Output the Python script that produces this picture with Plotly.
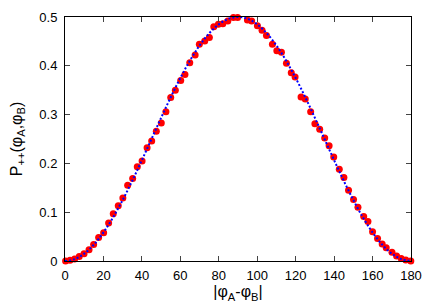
import plotly.graph_objects as go

# measured points (red)
angle_data = [0.3, 2.6, 5.0, 7.4, 9.9, 12.5, 14.9, 17.5, 20.1, 22.7, 25.1, 27.7, 30.1, 32.6, 35.2,
              37.6, 40.1, 42.7, 45.1, 47.5, 50.1, 52.5, 55.0, 57.4, 60.2, 62.4, 64.9, 67.7, 69.9, 72.7,
              75.1, 77.4, 79.8, 82.1, 84.7, 87.6, 89.8, 94.9, 97.1, 100.1, 102.5, 104.8, 107.9, 110.2,
              112.6, 115.2, 117.7, 119.7, 122.8, 125.0, 127.8, 130.0, 132.5, 135.1, 137.4, 139.8, 142.7,
              145.1, 147.5, 150.1, 152.4, 155.4, 157.6, 160.0, 162.6, 165.0, 167.1, 170.1, 172.5, 174.9,
              177.3, 179.9]
prob_data = [0, 0.0013, 0.004, 0.009, 0.015, 0.023, 0.034, 0.048, 0.058, 0.078, 0.097, 0.113, 0.129,
             0.155, 0.169, 0.193, 0.205, 0.232, 0.246, 0.266, 0.283, 0.306, 0.335, 0.350, 0.370, 0.382,
             0.406, 0.422, 0.444, 0.451, 0.458, 0.480, 0.485, 0.486, 0.492, 0.499, 0.499, 0.494, 0.492,
             0.482, 0.473, 0.462, 0.444, 0.431, 0.428, 0.405, 0.386, 0.377, 0.336, 0.332, 0.306, 0.281,
             0.270, 0.252, 0.236, 0.213, 0.188, 0.171, 0.145, 0.126, 0.110, 0.091, 0.081, 0.060, 0.046,
             0.035, 0.027, 0.018, 0.010, 0.005, 0.002, 0]

# theory curve (blue dotted)
angle_theory = [0, 5, 10, 15, 20, 25, 30, 35, 40, 45, 50, 55, 60, 65, 70, 75, 80, 85, 90,
                95, 100, 105, 110, 115, 120, 125, 130, 135, 140, 145, 150, 155, 160, 165, 170, 175, 180]
prob_theory = [0, 0.0038, 0.0151, 0.0335, 0.0585, 0.0893, 0.125, 0.1645, 0.2066, 0.25, 0.2934,
               0.3355, 0.375, 0.4107, 0.4415, 0.4665, 0.4849, 0.4962, 0.5, 0.4962, 0.4849, 0.4665,
               0.4415, 0.4107, 0.375, 0.3355, 0.2934, 0.25, 0.2066, 0.1645, 0.125, 0.0893, 0.0585,
               0.0335, 0.0151, 0.0038, 0]

x_ticks = [0, 20, 40, 60, 80, 100, 120, 140, 160, 180]
y_ticks = [0, 0.1, 0.2, 0.3, 0.4, 0.5]
y_tick_labels = ["0", "0.1", "0.2", "0.3", "0.4", "0.5"]

fig = go.Figure()
fig.add_trace(go.Scatter(x=angle_data, y=prob_data, mode="markers",
                         marker=dict(color="#ff0000", size=7, line=dict(width=0)),
                         cliponaxis=False, showlegend=False))
fig.add_trace(go.Scatter(x=angle_theory, y=prob_theory, mode="lines",
                         line=dict(color="#0000ff", width=2, dash="2px,2px", shape="spline"),
                         cliponaxis=False, showlegend=False))

# page body has an 8px margin, so the figure is shifted by 8px; compensate
font = dict(family="Liberation Sans, Arial, sans-serif", size=13, color="#000000")
fig.update_layout(
    width=428, height=297,
    margin=dict(l=57, r=25, t=9, b=44),
    paper_bgcolor="white", plot_bgcolor="white",
    font=font,
    xaxis=dict(range=[0, 180], tickvals=x_ticks, ticks="inside", ticklen=5,
               showline=True, linecolor="#000000", linewidth=1, mirror="ticks",
               showgrid=False, zeroline=False, ticklabelstandoff=2, automargin=False,
               title=dict(text="|φ<sub>A</sub>-φ<sub>B</sub>|", standoff=4)),
    yaxis=dict(range=[0, 0.5], tickvals=y_ticks, ticktext=y_tick_labels, ticks="inside", ticklen=5,
               showline=True, linecolor="#000000", linewidth=1, mirror="ticks",
               showgrid=False, zeroline=False, ticklabelstandoff=4, automargin=False,
               title=dict(text="P<sub>++</sub>(φ<sub>A</sub>,φ<sub>B</sub>)", standoff=14)),
)
fig.write_html("out.html")
